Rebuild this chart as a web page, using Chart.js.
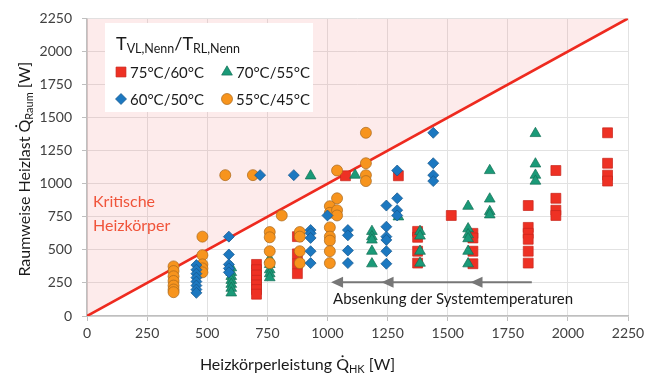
<!DOCTYPE html>
<html>
<head>
<meta charset="utf-8">
<script src="https://cdn.jsdelivr.net/npm/chart.js@4.4.1/dist/chart.umd.min.js"></script>
<style>
  html, body { margin: 0; padding: 0; background: #fff; }
</style>
</head>
<body>
<canvas id="chart" width="660" height="383"></canvas>
<script>
// columns of [x, [y values]]
const s7560 = [
    [705, [390, 350, 310, 270, 235, 200, 165]],
    [875, [600, 470, 395, 320]],
    [1075, [1060]],
    [1295, [1060]],
    [1375, [640, 595, 490, 400]],
    [1515, [760]],
    [1605, [625, 590, 490, 395]],
    [1835, [835, 670, 625, 580, 490, 400]],
    [1950, [1100, 890, 800, 760]],
    [2165, [1385, 1155, 1065, 1020]]
];
const s7055 = [
    [600, [365, 330, 300, 270, 240, 210, 175]],
    [760, [430, 390, 350, 320, 290]],
    [930, [1060]],
    [1115, [1065]],
    [1185, [640, 600, 575, 490, 395]],
    [1295, [750]],
    [1385, [640, 605, 490, 400]],
    [1585, [830, 660, 615, 585, 490, 395]],
    [1675, [1100, 885, 790, 765]],
    [1865, [1380, 1150, 1065, 1020]]
];
const s6050 = [
    [455, [385, 350, 320, 290, 260, 230, 200, 175]],
    [590, [600, 465, 390, 360, 330]],
    [720, [1065]],
    [860, [1065]],
    [930, [650, 625, 590, 490, 400]],
    [1000, [760]],
    [1085, [650, 610, 495, 400]],
    [1245, [835, 675, 600, 575, 490, 395]],
    [1290, [1100, 890, 800, 760]],
    [1440, [1385, 1155, 1065, 1020]]
];
const s5545 = [
    [360, [375, 340, 300, 265, 230, 200, 180]],
    [480, [600, 460, 390, 360, 330]],
    [575, [1065]],
    [690, [1065]],
    [760, [635, 595, 490, 400]],
    [810, [760]],
    [885, [635, 600, 490, 400]],
    [1010, [830, 780, 670, 600, 570, 490, 400]],
    [1040, [1100, 890, 800, 760]],
    [1160, [1385, 1155, 1065, 1020]]
];

const seriesLabels = ["75°C/60°C", "70°C/55°C", "60°C/50°C", "55°C/45°C"];
const diagX = [0, 2250];
const diagY = [0, 2250];
const axisTicks = [0, 250, 500, 750, 1000, 1250, 1500, 1750, 2000, 2250];

// arrow "Absenkung der Systemtemperaturen"
const arrowY = 255;
const arrowStart = 1850;
const arrowHeads = [1015, 1225, 1595];

const FONT = "Lato, 'Open Sans', sans-serif";

function toPoints(cols) {
    const pts = [];
    cols.forEach(([x, ys]) => ys.forEach(y => pts.push({ x: x, y: y })));
    return pts;
}

// draw text pieces, some as subscripts; returns total width
function drawRich(ctx, parts, x, y, align) {
    let total = 0;
    parts.forEach(p => {
        ctx.font = p.size + "px " + FONT;
        p.w = ctx.measureText(p.t).width;
        total += p.w;
    });
    let cx = align === "center" ? x - total / 2 : x;
    ctx.textAlign = "left";
    ctx.textBaseline = "alphabetic";
    parts.forEach(p => {
        ctx.font = p.size + "px " + FONT;
        ctx.fillText(p.t, cx, y + (p.dy || 0));
        if (p.dot) {
            ctx.beginPath();
            ctx.arc(cx + p.w / 2, y - p.size * 0.86, 1.1, 0, Math.PI * 2);
            ctx.fill();
        }
        cx += p.w;
    });
    return total;
}

const annotations = {
    id: "annotations",
    afterDatasetsDraw(chart) {
        const ctx = chart.ctx;
        const xs = chart.scales.x;
        const ys = chart.scales.y;
        const area = chart.chartArea;
        ctx.save();

        // Kritische Heizkörper
        ctx.fillStyle = "#f0543a";
        ctx.font = "16px " + FONT;
        ctx.textAlign = "left";
        ctx.textBaseline = "middle";
        ctx.fillText("Kritische", area.left + 6, 202);
        ctx.fillText("Heizkörper", area.left + 6, 226);

        // arrows
        const ay = ys.getPixelForValue(arrowY);
        ctx.strokeStyle = "#777";
        ctx.fillStyle = "#777";
        ctx.lineWidth = 2;
        ctx.beginPath();
        ctx.moveTo(xs.getPixelForValue(arrowStart), ay);
        ctx.lineTo(xs.getPixelForValue(Math.min(...arrowHeads)) + 6, ay);
        ctx.stroke();
        arrowHeads.forEach(v => {
            const px = xs.getPixelForValue(v);
            ctx.beginPath();
            ctx.moveTo(px, ay);
            ctx.lineTo(px + 12, ay - 5.5);
            ctx.lineTo(px + 12, ay + 5.5);
            ctx.closePath();
            ctx.fill();
        });
        ctx.fillStyle = "#1a1a1a";
        ctx.font = "15px " + FONT;
        ctx.textAlign = "left";
        ctx.textBaseline = "middle";
        ctx.fillText("Absenkung der Systemtemperaturen", xs.getPixelForValue(arrowHeads[0]) + 2, 299);

        // legend box
        ctx.fillStyle = "#fff";
        ctx.fillRect(105, 23, 208, 89);
        ctx.fillStyle = "#1a1a1a";
        drawRich(ctx, [
            { t: "T", size: 18 },
            { t: "VL,Nenn", size: 12.5, dy: 3 },
            { t: "/T", size: 18 },
            { t: "RL,Nenn", size: 12.5, dy: 3 }
        ], 116, 50, "left");

        const items = [
            { x: 121, y: 72, ds: 0 },
            { x: 227, y: 72, ds: 1 },
            { x: 121, y: 99, ds: 2 },
            { x: 227, y: 99, ds: 3 }
        ];
        items.forEach(it => {
            const d = chart.data.datasets[it.ds];
            ctx.fillStyle = d.backgroundColor;
            ctx.strokeStyle = d.borderColor;
            ctx.lineWidth = d.borderWidth;
            Chart.helpers.drawPoint(ctx, {
                pointStyle: d.pointStyle,
                radius: d.pointRadius,
                borderWidth: d.borderWidth,
                rotation: 0
            }, it.x, it.y);
            ctx.fillStyle = "#1a1a1a";
            ctx.font = "15px " + FONT;
            ctx.textAlign = "left";
            ctx.textBaseline = "middle";
            ctx.fillText(seriesLabels[it.ds], it.x + 9, it.y + 1);
        });
        ctx.restore();
    },
    afterDraw(chart) {
        const ctx = chart.ctx;
        const area = chart.chartArea;
        ctx.save();
        ctx.fillStyle = "#1a1a1a";
        // x title
        drawRich(ctx, [
            { t: "Heizkörperleistung ", size: 16 },
            { t: "Q", size: 16, dot: true },
            { t: "HK", size: 11, dy: 3 },
            { t: " [W]", size: 16 }
        ], (area.left + area.right) / 2 - 60, 370, "center");
        // y title
        ctx.translate(30, (area.top + area.bottom) / 2 + 2);
        ctx.rotate(-Math.PI / 2);
        drawRich(ctx, [
            { t: "Raumweise Heizlast ", size: 16 },
            { t: "Q", size: 16, dot: true },
            { t: "Raum", size: 11, dy: 3 },
            { t: " [W]", size: 16 }
        ], 0, 0, "center");
        ctx.restore();
    }
};

function scatterSet(label, data, style, radius, color, border, order) {
    return {
        type: "scatter",
        label: label,
        data: data,
        pointStyle: style,
        pointRadius: radius,
        pointHoverRadius: radius,
        backgroundColor: color,
        borderColor: border,
        borderWidth: 0.7,
        order: order
    };
}

const tickFormat = v => String(v);

const ctx = document.getElementById("chart");
new Chart(ctx, {
    data: {
        datasets: [
            scatterSet(seriesLabels[0], toPoints(s7560), "rect", 7, "#ee3124", "#c9251b", 4),
            scatterSet(seriesLabels[1], toPoints(s7055), "triangle", 6.2, "#1a9a78", "#136e55", 3),
            scatterSet(seriesLabels[2], toPoints(s6050), "rectRot", 5.5, "#1c78c0", "#14558a", 1),
            scatterSet(seriesLabels[3], toPoints(s5545), "circle", 5.5, "#f7941d", "#a8671c", 2),
            {
                type: "line",
                label: "Grenze",
                data: diagX.map((x, i) => ({ x: x, y: diagY[i] })),
                borderColor: "#ee2a1f",
                borderWidth: 2.6,
                pointRadius: 0,
                fill: "end",
                backgroundColor: "rgba(242, 110, 110, 0.14)",
                order: 5
            }
        ]
    },
    options: {
        responsive: false,
        animation: false,
        events: [],
        layout: { padding: { left: 0, right: 32, top: 12, bottom: 0 } },
        plugins: {
            legend: { display: false },
            tooltip: { enabled: false },
            filler: { propagate: false }
        },
        scales: {
            x: {
                type: "linear",
                min: 0,
                max: 2250,
                afterBuildTicks: s => { s.ticks = axisTicks.map(v => ({ value: v })); },
                afterFit: s => { s.height = 67; },
                ticks: { font: { family: FONT, size: 14 }, color: "#404040", padding: 4, callback: tickFormat },
                grid: { color: "#e2e2e2", tickLength: 5, tickColor: "#bfbfbf" },
                border: { color: "#bfbfbf", width: 1.5 }
            },
            y: {
                type: "linear",
                min: 0,
                max: 2250,
                afterBuildTicks: s => { s.ticks = axisTicks.map(v => ({ value: v })); },
                afterFit: s => { s.width = 87; },
                ticks: { font: { family: FONT, size: 14 }, color: "#404040", padding: 10, callback: tickFormat },
                grid: { color: "#e2e2e2", tickLength: 5, tickColor: "#bfbfbf" },
                border: { color: "#bfbfbf", width: 1.5 }
            }
        }
    },
    plugins: [annotations]
});
</script>
</body>
</html>
